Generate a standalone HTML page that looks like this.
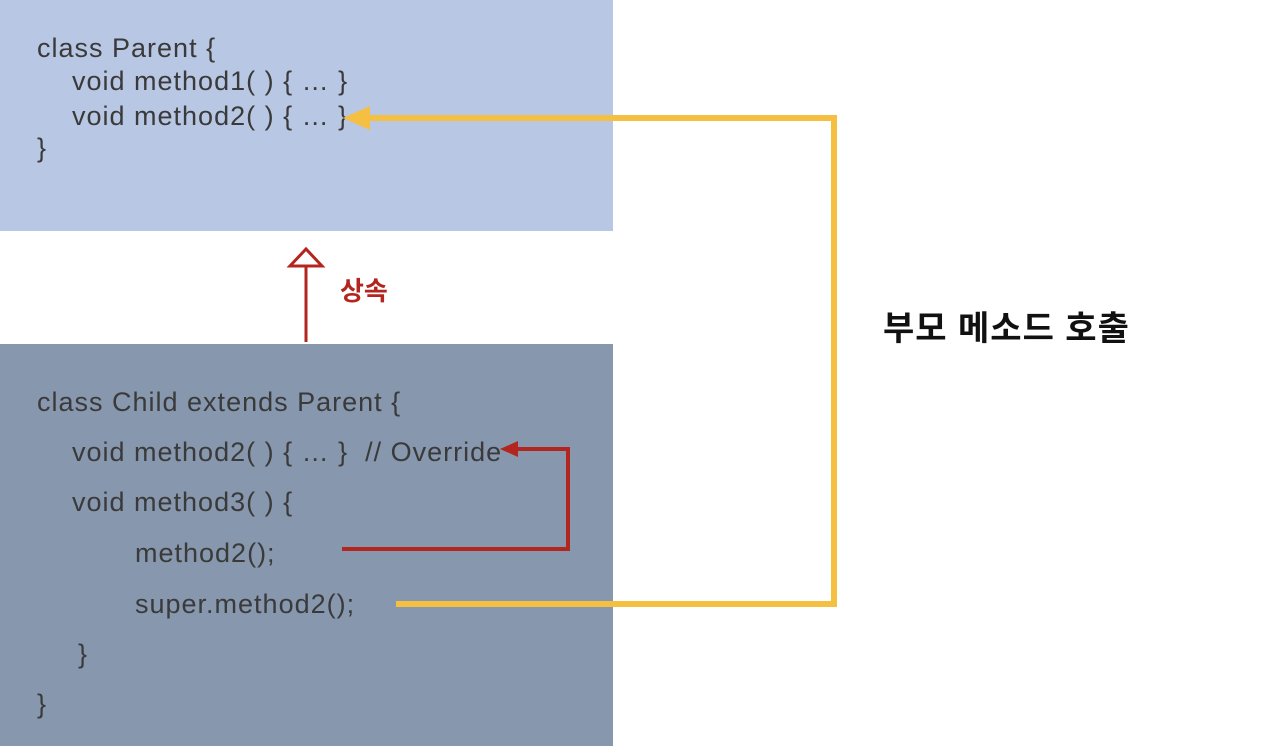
<!DOCTYPE html>
<html><head><meta charset="utf-8"><style>
body{margin:0;width:1276px;height:746px;position:relative;background:#fff;overflow:hidden;font-family:"Liberation Sans","Noto Sans CJK KR",sans-serif}
.box{position:absolute;left:0;width:613px}
.t{position:absolute;font-size:27px;letter-spacing:1px;color:#3a3a3a;white-space:pre;line-height:30px}
svg{position:absolute;left:0;top:0}
</style></head><body>
<div class="box" style="top:0;height:231px;background:#b8c7e3"></div>
<div class="box" style="top:344px;height:402px;background:#8797ad"></div>
<div class="t" style="left:37px;top:33px">class Parent {</div>
<div class="t" style="left:72px;top:66px">void method1( ) { … }</div>
<div class="t" style="left:72px;top:101px">void method2( ) { … }</div>
<div class="t" style="left:37px;top:133px">}</div>
<div class="t" style="left:37px;top:387px">class Child extends Parent {</div>
<div class="t" style="left:72px;top:437px">void method2( ) { … }  // Override</div>
<div class="t" style="left:72px;top:487px">void method3( ) {</div>
<div class="t" style="left:135px;top:538px">method2();</div>
<div class="t" style="left:135px;top:589px">super.method2();</div>
<div class="t" style="left:78px;top:639px">}</div>
<div class="t" style="left:37px;top:689px">}</div>
<div style="position:absolute;left:340px;top:271px;font-size:26px;font-weight:bold;color:#b3251f">상속</div>
<div style="position:absolute;left:883px;top:301px;font-size:34px;letter-spacing:1px;font-weight:bold;color:#111">부모 메소드 호출</div>
<svg width="1276" height="746">
<line x1="306" y1="342" x2="306" y2="266" stroke="#b3251f" stroke-width="3"/>
<polygon points="306,249 290,266 322,266" fill="#fff" stroke="#b3251f" stroke-width="3"/>
<polyline points="342,549 568,549 568,449 515,449" fill="none" stroke="#b3251f" stroke-width="4"/>
<polygon points="500,449 518,441 518,457" fill="#b3251f"/>
<polyline points="396,604 834,604 834,118 365,118" fill="none" stroke="#f5bf42" stroke-width="6"/>
<polygon points="343,118 370,106 370,130" fill="#f5bf42"/>
</svg>
</body></html>
